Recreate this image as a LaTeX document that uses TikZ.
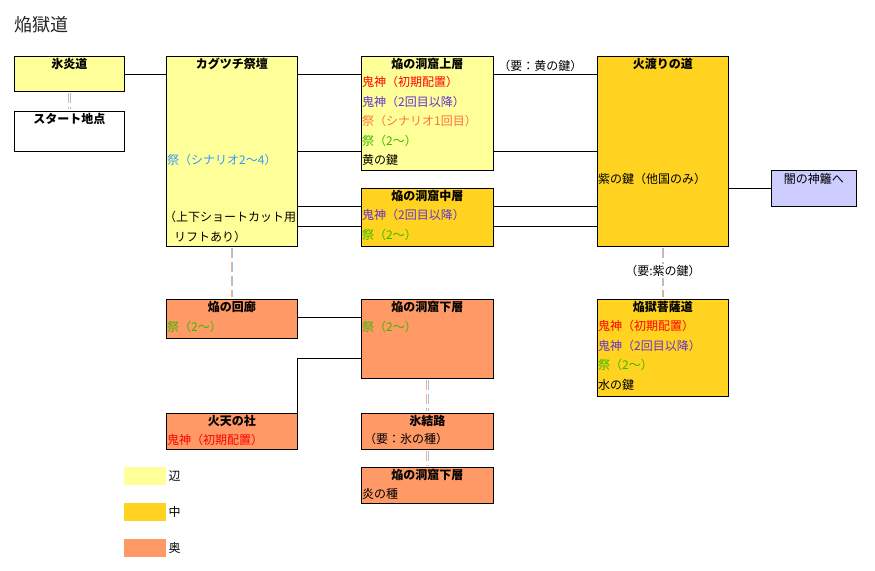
\documentclass[tikz,border=0pt]{standalone}
\usepackage{fontspec}
\setmainfont{Noto Sans CJK JP}
\usetikzlibrary{positioning,calc}
\definecolor{henc}{HTML}{FFFF99}
\definecolor{nakac}{HTML}{FFD320}
\definecolor{okuc}{HTML}{FF9966}
\definecolor{yamic}{HTML}{CCCCFF}
\definecolor{oniRed}{HTML}{FF0000}
\definecolor{oniPur}{HTML}{6633CC}
\definecolor{matsuriC}{HTML}{FF7043}
\definecolor{matsuriG}{HTML}{33BB00}
\definecolor{matsuriB}{HTML}{3399FF}
\definecolor{lnkO}{HTML}{F4B183}
\definecolor{lnkB}{HTML}{9DC3E6}
\tikzset{
  room/.style={draw, line width=0.8pt, anchor=north west, inner sep=0pt},
  ttl/.style={anchor=center, inner sep=0pt, font=\fontsize{12}{14}\selectfont\bfseries},
  item/.style={anchor=west, inner sep=0pt, font=\fontsize{12}{14}\selectfont},
  wire/.style={line width=0.8pt},
  keyO/.style={lnkO, line width=1pt, dash pattern=on 10pt off 4pt, shorten <=1pt, shorten >=2pt, transform canvas={xshift=-0.6pt}},
  keyB/.style={lnkB, line width=1pt, dash pattern=on 10pt off 4pt, shorten <=1pt, shorten >=2pt, transform canvas={xshift=0.6pt}},
  swatch/.style={anchor=north west, inner sep=0pt, minimum width=42pt, minimum height=18pt},
}

\begin{document}
\begin{tikzpicture}[x=1pt, y=-1pt]
    \useasboundingbox (0,0) rectangle (875,570);
    % title
    \node[anchor=west, inner sep=0pt, font=\fontsize{18}{20}\selectfont, text=black!85] (heading) at (14,25) {焔獄道};
    % rooms
    \node[room, fill=henc, minimum width=110, minimum height=35] (hyoen) at (14,56) {};
    \node[room, fill=white, minimum width=110, minimum height=40] (start) at (14,111) {};
    \node[room, fill=henc, minimum width=131, minimum height=190] (kagu) at (166,56) {};
    \node[room, fill=henc, minimum width=132, minimum height=114] (jou) at (361,56) {};
    \node[room, fill=nakac, minimum width=132, minimum height=58] (chuu) at (361,188) {};
    \node[room, fill=nakac, minimum width=131, minimum height=190] (hiwatari) at (597,56) {};
    \node[room, fill=yamic, minimum width=85, minimum height=36] (yami) at (771,170) {};
    \node[room, fill=nakac, minimum width=131, minimum height=97] (bosatsu) at (597,299) {};
    \node[room, fill=okuc, minimum width=131, minimum height=39] (kairou) at (166,299) {};
    \node[room, fill=okuc, minimum width=132, minimum height=79] (kasou) at (361,299) {};
    \node[room, fill=okuc, minimum width=131, minimum height=36] (katen) at (166,413) {};
    \node[room, fill=okuc, minimum width=132, minimum height=36] (hyouketsu) at (361,413) {};
    \node[room, fill=okuc, minimum width=132, minimum height=36] (kasou2) at (361,467) {};
    % room titles
    \foreach \r/\lab in {hyoen/氷炎道, start/スタート地点, kagu/カグツチ祭壇, jou/焔の洞窟上層,
        chuu/焔の洞窟中層, hiwatari/火渡りの道, bosatsu/焔獄菩薩道, kairou/焔の回廊,
        kasou/焔の洞窟下層, katen/火天の社, hyouketsu/氷結路, kasou2/焔の洞窟下層}
      \node[ttl] (\r-t) at ([yshift=-8pt]\r.north) {\lab};
    \node[item, anchor=center] (yami-t) at ([yshift=-9pt]yami.north) {闇の神籬へ};
    % room contents
    \foreach \k/\col/\txt in {0/oniRed/鬼神（初期配置）, 1/oniPur/鬼神（2回目以降）,
        2/matsuriC/祭（シナリオ1回目）, 3/matsuriG/祭（2～）, 4/black/黄の鍵}
      \node[item, text=\col] (jou-\k) at ([xshift=1pt, yshift={-26pt-19.5pt*\k}]jou.north west) {\txt};
    \foreach \k/\col/\txt in {0/oniPur/鬼神（2回目以降）, 1/matsuriG/祭（2～）}
      \node[item, text=\col] (chuu-\k) at ([xshift=1pt, yshift={-27pt-19.5pt*\k}]chuu.north west) {\txt};
    \foreach \k/\col/\txt in {0/oniRed/鬼神（初期配置）, 1/oniPur/鬼神（2回目以降）,
        2/matsuriG/祭（2～）, 3/black/水の鍵}
      \node[item, text=\col] (bosatsu-\k) at ([xshift=1pt, yshift={-27pt-19.5pt*\k}]bosatsu.north west) {\txt};
    \node[item, text=matsuriB] (kagu-0) at ([xshift=1pt, yshift=-104pt]kagu.north west) {祭（シナリオ2～4）};
    \node[item] (kagu-1) at ([xshift=-2pt, yshift=-161pt]kagu.north west) {（上下ショートカット用};
    \node[item] (kagu-2) at ([xshift=8pt, yshift=-181pt]kagu.north west) {リフトあり）};
    \node[item] (hiwatari-0) at ([xshift=1pt, yshift=-123pt]hiwatari.north west) {紫の鍵（他国のみ）};
    \node[item, text=matsuriG] (kairou-0) at ([xshift=1pt, yshift=-28pt]kairou.north west) {祭（2～）};
    \node[item, text=matsuriG] (kasou-0) at ([xshift=1pt, yshift=-28pt]kasou.north west) {祭（2～）};
    \node[item, text=oniRed] (katen-0) at ([xshift=1pt, yshift=-27pt]katen.north west) {鬼神（初期配置）};
    \node[item] (hyouketsu-0) at ([xshift=3pt, yshift=-26pt]hyouketsu.north west) {（要：氷の種）};
    \node[item] (kasou2-0) at ([xshift=1pt, yshift=-27pt]kasou2.north west) {炎の種};
    % passages
    \draw[wire] (hyoen.east) -- (hyoen.east -| kagu.west);
    \foreach \dy in {18,95} {
      \draw[wire] ([yshift=-\dy pt]kagu.north east) -- ([yshift=-\dy pt]jou.north west);
      \draw[wire] ([yshift=-\dy pt]jou.north east) -- ([yshift=-\dy pt]hiwatari.north west);
    }
    \foreach \dy in {18,38} {
      \draw[wire] ([yshift=-\dy pt]chuu.north west) -- ([yshift=-\dy pt]chuu.north west -| kagu.east);
      \draw[wire] ([yshift=-\dy pt]chuu.north east) -- ([yshift=-\dy pt]chuu.north east -| hiwatari.west);
    }
    \node[item, anchor=south] (needYellow) at ([xshift=-5pt, yshift=-16pt]$(jou.north east)!0.5!(hiwatari.north west)$) {（要：黄の鍵）};
    \draw[wire] (yami.west -| hiwatari.east) -- (yami.west);
    \draw[wire] ([yshift=-18pt]kairou.north east) -- ([yshift=-18pt]kairou.north east -| kasou.west);
    \draw[wire] ([yshift=-59pt]kasou.north west) -| (katen.north east);
    % key links
    \foreach \a/\b in {hyoen/start, kagu/kairou, hiwatari/bosatsu, kasou/hyouketsu, hyouketsu/kasou2} {
      \draw[keyO] (\a.south) -- (\b.north);
      \draw[keyB] (\a.south) -- (\b.north);
    }
    \node[item, anchor=center, fill=white, inner sep=1pt] (needPurple) at (663,271) {（要:紫の鍵）};
    % legend
    \foreach \i/\col/\lab in {0/henc/辺, 1/nakac/中, 2/okuc/奥} {
      \node[swatch, fill=\col] (sw-\i) at (124,467+36*\i) {};
      \node[item] (swl-\i) at ([xshift=2pt]sw-\i.east) {\lab};
    }
  \end{tikzpicture}
\end{document}
